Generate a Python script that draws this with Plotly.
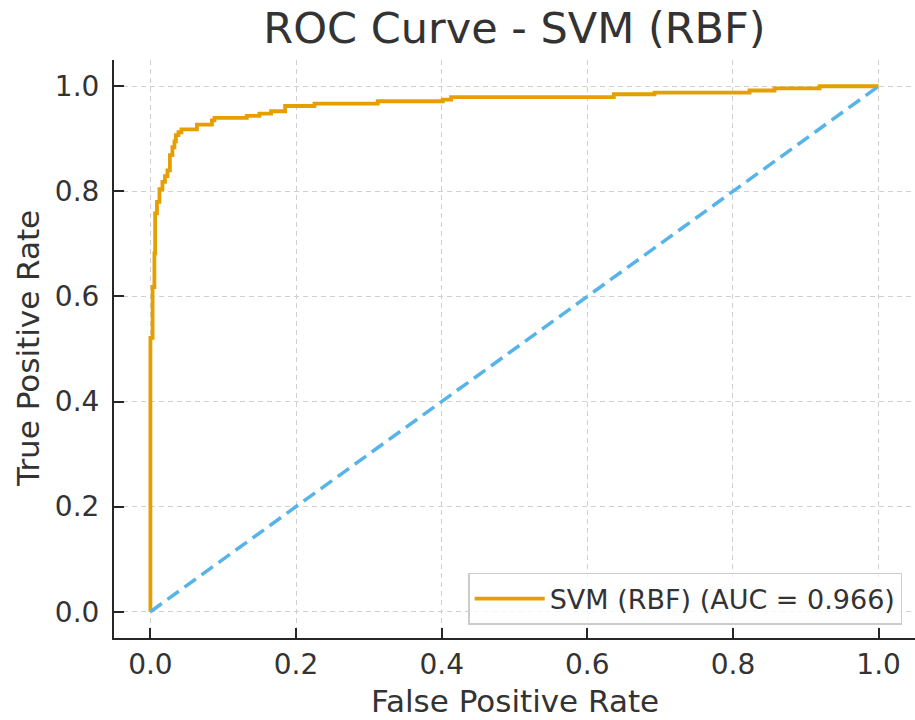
import plotly.graph_objects as go

# ROC curve corner points (fpr, tpr)
fpr = [0.0, 0.0, 0.003, 0.0055, 0.0065, 0.009, 0.0124, 0.0165, 0.020, 0.0234,
       0.0268, 0.0302, 0.033, 0.035, 0.0385, 0.0426, 0.0639, 0.0845, 0.088,
       0.1323, 0.1497, 0.1658, 0.185, 0.2253, 0.3122, 0.4015, 0.413, 0.6364,
       0.6923, 0.8228, 0.8571, 0.919, 1.0]
tpr = [0.0, 0.521, 0.618, 0.682, 0.758, 0.780, 0.804, 0.818, 0.829, 0.840,
       0.869, 0.884, 0.895, 0.907, 0.9125, 0.918, 0.927, 0.935, 0.940,
       0.9435, 0.948, 0.9525, 0.9625, 0.967, 0.9715, 0.9745, 0.9795, 0.9848,
       0.988, 0.992, 0.996, 1.0, 1.0]
diag_x = [0.0, 1.0]
diag_y = [0.0, 1.0]
auc_value = 0.966
tick_vals = [0.0, 0.2, 0.4, 0.6, 0.8, 1.0]
tick_text = ["0.0", "0.2", "0.4", "0.6", "0.8", "1.0"]

FONT = "DejaVu Sans"
TXT = "#333333"
SPINE = "#262626"
W, H = 915, 720
ML, MR, MT, MB = 114, 0, 60, 82

fig = go.Figure()
fig.add_trace(go.Scatter(
    x=fpr, y=tpr, mode="lines", line=dict(color="#E69F00", width=3.8, shape="hv"),
    name=f"SVM (RBF) (AUC = {auc_value:.3f})", showlegend=True))
fig.add_trace(go.Scatter(
    x=diag_x, y=diag_y, mode="lines",
    line=dict(color="#56B4E9", width=3.5, dash="14px,7px"), showlegend=False))

axis_common = dict(
    range=[-0.05, 1.05], tickvals=tick_vals, ticktext=tick_text,
    showgrid=True, gridcolor="#d0d0d0", gridwidth=1, griddash="5px,4px",
    zeroline=False, showline=True, linecolor=SPINE, linewidth=2,
    ticks="inside", ticklen=10, tickwidth=1.5, tickcolor=SPINE,
    tickfont=dict(family=FONT, size=28, color=TXT), mirror=False,
)

pw = W - ML - MR
ph = H - MT - MB

fig.update_layout(
    width=W, height=H,
    margin=dict(l=ML, r=MR, t=MT, b=MB),
    paper_bgcolor="white", plot_bgcolor="white",
    title=dict(text="ROC Curve - SVM (RBF)", x=(ML + pw / 2) / W, xanchor="center",
               y=1 - 28 / H, yanchor="middle", yref="container",
               font=dict(family=FONT, size=43, color=TXT)),
    xaxis=dict(**axis_common, ticklabelstandoff=0),
    yaxis=dict(**axis_common, ticklabelstandoff=7),
    legend=dict(x=0.984, y=0.0225, xanchor="right", yanchor="bottom",
                bgcolor="rgba(255,255,255,0.8)", bordercolor="#cccccc", borderwidth=1.5,
                font=dict(family=FONT, size=27, color=TXT), itemwidth=70),
    showlegend=True,
    annotations=[
        dict(text="False Positive Rate", xref="paper", yref="paper",
             x=0.5, y=-(701 - (H - MB)) / ph, xanchor="center", yanchor="middle",
             showarrow=False, font=dict(family=FONT, size=31, color=TXT)),
        dict(text="True Positive Rate", xref="paper", yref="paper", textangle=-90,
             x=-(ML - 28) / pw, y=0.5, xanchor="center", yanchor="middle",
             showarrow=False, font=dict(family=FONT, size=31, color=TXT)),
    ],
)

fig.write_html("out.html")
